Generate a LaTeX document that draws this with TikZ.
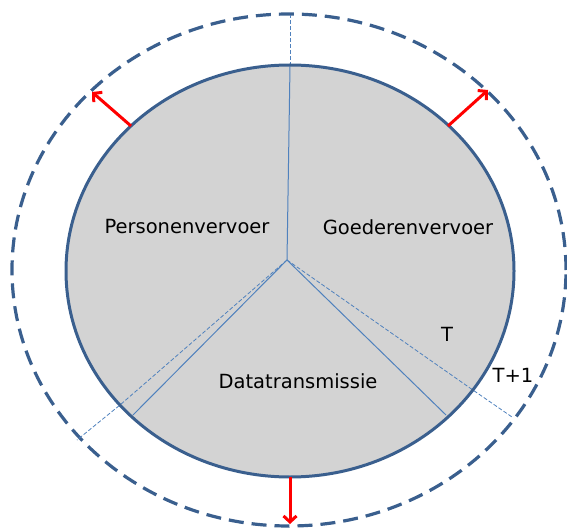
\documentclass[tikz,border=0pt]{standalone}
\usepackage{fontspec}
\setmainfont{DejaVu Sans}
\usetikzlibrary{arrows.meta}
\definecolor{rimblue}{HTML}{3A5F8E}
\definecolor{spokeblue}{HTML}{4F81BD}
\definecolor{piegray}{HTML}{D3D3D3}
\tikzset{
  rim/.style={draw=rimblue, line width=3pt},
  outerrim/.style={draw=rimblue, line width=3.2pt, dash pattern=on 15pt off 8pt},
  spoke/.style={draw=spokeblue, line width=1pt},
  dspoke/.style={draw=spokeblue, line width=0.8pt, dash pattern=on 4pt off 2pt},
  growth/.style={draw=red, line width=3pt, -{Straight Barb[length=6pt,width=13pt,line width=3pt]}},
  lbl/.style={font=\fontsize{19.5pt}{21pt}\selectfont, inner sep=0pt}
}
\begin{document}
\begin{tikzpicture}[x=1pt,y=1pt]
\useasboundingbox (0,0) rectangle (567,528);
% outer dashed ellipse
\draw[outerrim] (289,258) ellipse [x radius=277, y radius=256];
% inner pie
\fill[piegray] (290,257) ellipse [x radius=224, y radius=206];
\coordinate (O) at (287,268);
\coordinate (ctop) at (290,462);
\coordinate (otop) at (290,513);
\coordinate (rsol) at (446,113);
\coordinate (lsol) at (133,113);
\coordinate (rin) at (470,140);
\coordinate (rout) at (512,111);
\coordinate (lin) at (120,123);
\coordinate (lout) at (77,88);
\draw[spoke] (O) -- (ctop);
\draw[dspoke] (ctop) -- (otop);
\draw[spoke] (O) -- (rsol);
\draw[spoke] (O) -- (lsol);
\draw[dspoke] (O) -- (rin) -- (rout);
\draw[dspoke] (O) -- (lin) -- (lout);
\draw[rim] (290,257) ellipse [x radius=224, y radius=206];
% arrows
\coordinate (la) at (131,402);
\coordinate (lb) at (92,436);
\coordinate (ra) at (448,402);
\coordinate (rb) at (488,438);
\coordinate (ba) at (290,51);
\coordinate (bb) at (290,4);
\draw[growth] (la) -- (lb);
\draw[growth] (ra) -- (rb);
\draw[growth] (ba) -- (bb);
% labels
\node[lbl] (pers) at (187,301) {Personenvervoer};
\node[lbl] (goed) at (408,301) {Goederenvervoer};
\node[lbl] (data) at (298,147) {Datatransmissie};
\node[lbl] (t) at (447,194) {T};
\node[lbl] (t1) at (513,153) {T+1};
\end{tikzpicture}
\end{document}
